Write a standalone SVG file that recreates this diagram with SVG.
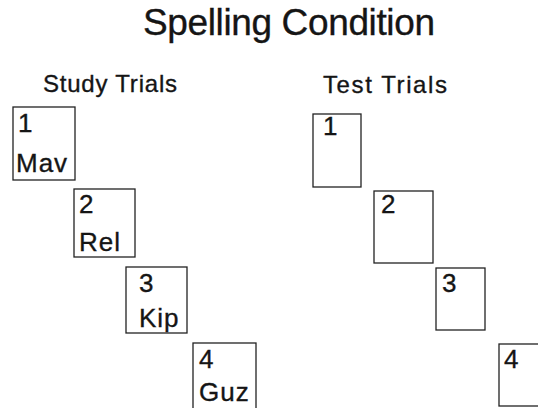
<svg xmlns="http://www.w3.org/2000/svg" width="538" height="408" viewBox="0 0 538 408">
<style>
text{font-family:"Liberation Sans",Arial,sans-serif;fill:#151515;stroke:#151515;stroke-width:0.35}
.t{font-size:37px}
.h{font-size:24px}
.n{font-size:26px;letter-spacing:1px}
rect{fill:#fff;stroke:#222;stroke-width:1.3}
</style>
<rect x="0" y="0" width="538" height="408" style="stroke:none"/>
<text class="t" x="143" y="35" textLength="292" lengthAdjust="spacing">Spelling Condition</text>
<text class="h" x="43" y="92" textLength="134" lengthAdjust="spacing">Study Trials</text>
<text class="h" x="323" y="93" textLength="124" lengthAdjust="spacing">Test Trials</text>
<g id="study1"><rect x="13" y="107" width="62" height="73"/><text class="n" x="18" y="132">1</text><text class="n" x="16" y="172">Mav</text></g>
<g id="study2"><rect x="74" y="189" width="61" height="68"/><text class="n" x="79" y="213">2</text><text class="n" x="79" y="251">Rel</text></g>
<g id="study3"><rect x="126" y="267" width="61" height="66"/><text class="n" x="139" y="292">3</text><text class="n" x="139" y="327">Kip</text></g>
<g id="study4"><rect x="193" y="343" width="63" height="75"/><text class="n" x="199" y="368">4</text><text class="n" x="199" y="401">Guz</text></g>
<g id="test1"><rect x="313" y="114" width="48" height="73"/><text class="n" x="323" y="135">1</text></g>
<g id="test2"><rect x="374" y="191" width="59" height="72"/><text class="n" x="381" y="213">2</text></g>
<g id="test3"><rect x="436" y="268" width="49" height="62"/><text class="n" x="442" y="292">3</text></g>
<g id="test4"><rect x="499" y="344" width="50" height="62"/><text class="n" x="504" y="368">4</text></g>
<g id="connectors"></g>
</svg>
